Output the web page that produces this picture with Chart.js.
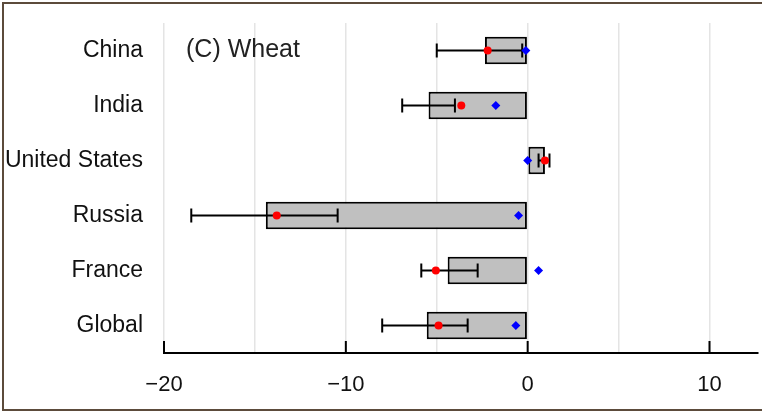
<!DOCTYPE html>
<html>
<head>
<meta charset="utf-8">
<script src="https://cdn.jsdelivr.net/npm/chart.js@4"></script>
<style>
  html, body { margin: 0; padding: 0; background: #fff; }
  #wrap { width: 762px; height: 413px; position: relative; }
</style>
</head>
<body>
<div id="wrap"><canvas id="wheatChart"></canvas></div>
<script>
// --- 데이터 ---
const categories = ['China', 'India', 'United States', 'Russia', 'France', 'Global'];
const barValues  = [-2.35, -5.45, 0.95, -14.4, -4.4, -5.55];
const errLow     = [-5.0, -6.9, 0.6, -18.5, -5.85, -8.0];
const errHigh    = [-0.3, -4.0, 1.2, -10.45, -2.75, -3.3];
const redValues  = [-2.2, -3.65, 0.95, -13.8, -5.05, -4.9];
const blueValues = [-0.1, -1.75, 0.0, -0.5, 0.6, -0.65];
const majorTicks = [-20, -10, 0, 10];
const panelTitle = '(C) Wheat';

const FONT = "'Liberation Sans', Arial, sans-serif";

// 에러바, 주 눈금, 패널 제목, 테두리
const extrasPlugin = {
    id: 'extras',
    afterDatasetDraw(chart, args) {
        if (args.index !== 0) return;
        const { ctx, scales: { x, y } } = chart;
        ctx.save();
        ctx.strokeStyle = '#000';
        ctx.lineWidth = 2;
        categories.forEach((c, i) => {
            const yy = y.getPixelForValue(i);
            const x1 = x.getPixelForValue(errLow[i]);
            const x2 = x.getPixelForValue(errHigh[i]);
            ctx.beginPath();
            ctx.moveTo(x1, yy); ctx.lineTo(x2, yy);
            ctx.moveTo(x1, yy - 7); ctx.lineTo(x1, yy + 7);
            ctx.moveTo(x2, yy - 7); ctx.lineTo(x2, yy + 7);
            ctx.stroke();
        });
        ctx.restore();
    },
    afterDraw(chart) {
        const { ctx, chartArea, scales: { x, y } } = chart;
        ctx.save();
        // 축 위쪽으로 향하는 주 눈금
        ctx.strokeStyle = '#000';
        ctx.lineWidth = 2;
        majorTicks.forEach(t => {
            const px = x.getPixelForValue(t);
            ctx.beginPath();
            ctx.moveTo(px, chartArea.bottom);
            ctx.lineTo(px, chartArea.bottom - 12);
            ctx.stroke();
        });
        // 패널 제목
        ctx.fillStyle = '#222';
        ctx.font = '25px ' + FONT;
        ctx.textBaseline = 'middle';
        ctx.textAlign = 'left';
        ctx.fillText(panelTitle, chartArea.left + 22, y.getPixelForValue(0));
        // 테두리 (오른쪽은 잘림)
        ctx.strokeStyle = '#5c4b3b';
        ctx.lineWidth = 2;
        ctx.beginPath();
        ctx.moveTo(chart.width + 5, 3);
        ctx.lineTo(3, 3);
        ctx.lineTo(3, 410);
        ctx.lineTo(chart.width + 5, 410);
        ctx.stroke();
        ctx.restore();
    }
};

const ctx = document.getElementById('wheatChart').getContext('2d');
new Chart(ctx, {
    type: 'bar',
    data: {
        labels: categories,
        datasets: [
            {
                data: barValues,
                backgroundColor: '#c0c0c0',
                borderColor: '#000',
                borderWidth: 2,
                borderSkipped: false,
                barPercentage: 0.5,
                categoryPercentage: 1,
                order: 3
            },
            {
                type: 'line',
                data: redValues,
                showLine: false,
                pointStyle: 'circle',
                pointRadius: 4,
                pointBackgroundColor: '#ff0000',
                pointBorderColor: '#ff0000',
                pointBorderWidth: 0,
                order: 2
            },
            {
                type: 'line',
                data: blueValues,
                showLine: false,
                pointStyle: 'rectRot',
                pointRadius: 4.5,
                pointBackgroundColor: '#0000ff',
                pointBorderColor: '#0000ff',
                pointBorderWidth: 0,
                order: 1
            }
        ]
    },
    options: {
        indexAxis: 'y',
        responsive: true,
        maintainAspectRatio: false,
        animation: false,
        layout: { padding: { top: 23, left: 0, right: 0, bottom: 0 } },
        scales: {
            x: {
                min: -20,
                max: 12.64,
                afterFit: s => { s.height = 60; s.paddingLeft = 0; s.paddingRight = 0; },
                grid: { color: '#e4e4e4', lineWidth: 1.5, drawTicks: false },
                border: { display: true, color: '#000', width: 2 },
                ticks: {
                    stepSize: 5,
                    includeBounds: false,
                    padding: 19,
                    color: '#111',
                    font: { family: FONT, size: 22 },
                    callback: v => (v % 10 === 0 ? String(v).replace('-', '\u2212') : '')
                }
            },
            y: {
                afterFit: s => { s.width = 164; s.paddingTop = 0; s.paddingBottom = 0; },
                grid: { display: false, drawTicks: false },
                border: { display: false },
                ticks: {
                    padding: 21,
                    color: '#111',
                    font: { family: FONT, size: 23 }
                }
            }
        },
        plugins: {
            legend: { display: false },
            tooltip: { enabled: false }
        }
    },
    plugins: [extrasPlugin]
});
</script>
</body>
</html>
